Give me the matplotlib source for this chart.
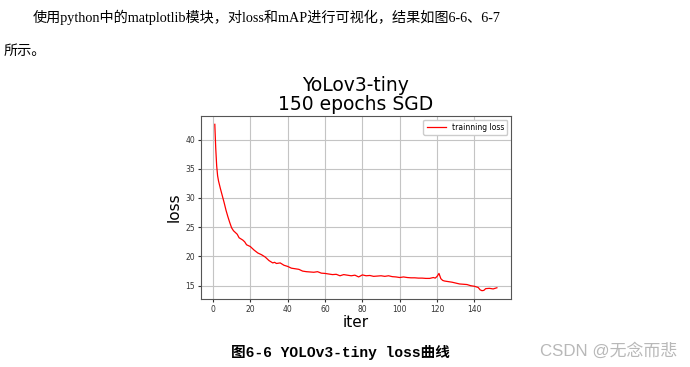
import matplotlib
matplotlib.use("Agg")
import matplotlib.pyplot as plt

# Document text around the chart
para_line1 = "使用python中的matplotlib模块，对loss和mAP进行可视化，结果如图6-6、6-7"
para_line2 = "所示。"
caption = "图6-6 YOLOv3-tiny loss曲线"
watermark = "CSDN @无念而悲"

# Chart texts
title = "YoLov3-tiny\n150 epochs SGD"
legend_label = "trainning loss"

# Training loss
iters = [1, 1.5, 2, 2.5, 3, 4, 5, 6, 7, 8, 9, 10, 11, 12, 13, 14, 15, 16, 17, 18,
         20, 22, 24, 26, 28, 30, 32, 33, 34, 36, 38, 40, 42, 44, 46, 48, 50, 52, 54,
         56, 58, 60, 62, 64, 66, 68, 70, 72, 74, 76, 78, 80, 82, 84, 86, 88, 90, 92,
         94, 96, 98, 100, 102, 104, 106, 108, 110, 112, 114, 116, 118, 119, 120, 121,
         122, 123, 124, 126, 128, 130, 132, 134, 136, 138, 140, 142, 143, 144, 145,
         146, 148, 150, 152]
loss = [42.6, 38.5, 35.5, 33.8, 32.9, 31.6, 30.4, 29.2, 27.9, 26.8, 25.8, 24.9, 24.4,
        24.1, 23.8, 23.2, 23.0, 22.8, 22.5, 22.0, 21.7, 21.1, 20.6, 20.3, 19.9, 19.3,
        18.9, 19.0, 18.8, 18.9, 18.5, 18.3, 18.0, 17.9, 17.8, 17.5, 17.4, 17.35, 17.3,
        17.4, 17.15, 17.1, 17.0, 16.9, 16.95, 16.7, 16.9, 16.8, 16.7, 16.8, 16.5, 16.85,
        16.7, 16.75, 16.6, 16.65, 16.7, 16.6, 16.7, 16.55, 16.5, 16.4, 16.5, 16.4, 16.35,
        16.35, 16.3, 16.3, 16.25, 16.25, 16.4, 16.3, 16.6, 17.1, 16.2, 15.9, 15.8, 15.7,
        15.6, 15.45, 15.3, 15.25, 15.2, 15.0, 14.9, 14.7, 14.3, 14.15, 14.2, 14.5, 14.55,
        14.45, 14.65]

fig = plt.figure(figsize=(6.9, 3.67), dpi=100)
fig.patch.set_facecolor("white")

# paragraph text (serif latin + CJK fallback)
body_font = ["Liberation Serif", "Noto Sans CJK SC"]
fig.text(33 / 690, 1 - 17 / 367, para_line1, family=body_font, fontsize=10.2,
         va="center", ha="left", color="black")
fig.text(4 / 690, 1 - 51 / 367, para_line2, family=body_font, fontsize=10.2,
         va="center", ha="left", color="black")

# chart
ax = fig.add_axes([200.7 / 690, 1 - 299 / 367, 310.3 / 690, 183 / 367])
ax.plot(iters, loss, color="red", linewidth=0.9, label=legend_label)
ax.grid(True, color="#c4c4c4", linewidth=0.8)
ax.set_axisbelow(True)
ax.set_title(title, fontsize=13.5, pad=4.5, family="DejaVu Sans", linespacing=1.0)
ax.set_xlabel("iter", fontsize=11, labelpad=1)
ax.set_ylabel("loss", fontsize=11, labelpad=3)
ax.tick_params(labelsize=5.5, length=2, pad=2, colors="#333333")
for s in ax.spines.values():
    s.set_color("#555555")
    s.set_linewidth(0.8)
ax.legend(loc="upper right", fontsize=5.5, handlelength=2.5, framealpha=1,
          edgecolor="#cccccc")

# caption under the chart
fig.text(340 / 690, 1 - 352 / 367, caption,
         family=["Liberation Mono", "Noto Sans CJK SC"], fontweight="bold",
         fontsize=10.5, va="center", ha="center", color="black")

# watermark
fig.text(609 / 690, 1 - 351 / 367, watermark,
         family=["Liberation Sans", "Noto Sans CJK SC"], fontsize=12.2,
         va="center", ha="center", color="#b8b8b8")

fig.savefig("out.png", dpi=100)
